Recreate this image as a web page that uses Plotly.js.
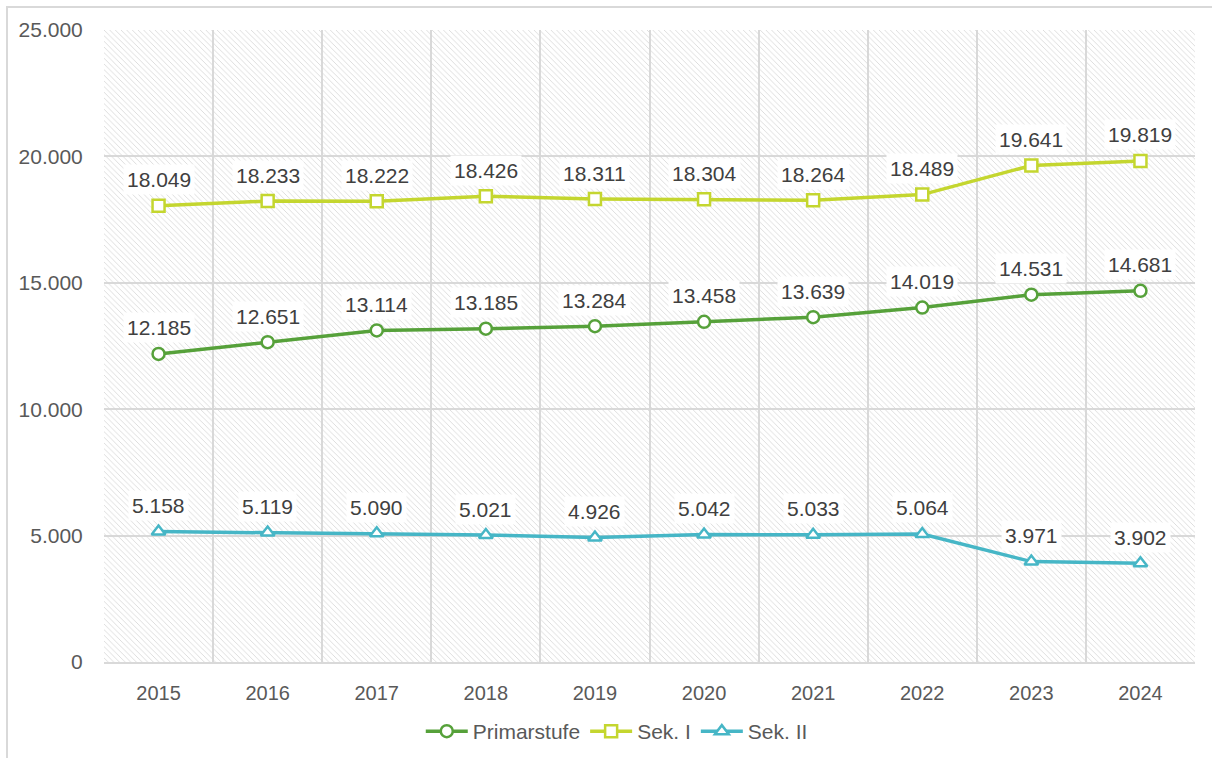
<!DOCTYPE html>
<html>
<head>
<meta charset="utf-8">
<script src="https://cdn.plot.ly/plotly-3.0.1.min.js"></script>
<style>
  body { margin: 0; background: #fff; }
  #wrap { position: relative; width: 1212px; height: 758px; overflow: hidden; }
  #frame { position: absolute; left: 6px; top: 6px; width: 1300px; height: 900px;
           border-left: 2px solid #d9d9d9; border-top: 2px solid #d9d9d9; }
  #chart { position: absolute; left: 0; top: 0; width: 1212px; height: 758px; }
</style>
</head>
<body>
<div id="wrap">
  <div id="frame"></div>
  <div id="chart"></div>
</div>
<script>
// Schülerzahlen nach Schulstufe
const jahre = [2015, 2016, 2017, 2018, 2019, 2020, 2021, 2022, 2023, 2024];
const primarstufe = [12185, 12651, 13114, 13185, 13284, 13458, 13639, 14019, 14531, 14681];
const sekI = [18049, 18233, 18222, 18426, 18311, 18304, 18264, 18489, 19641, 19819];
const sekII = [5158, 5119, 5090, 5021, 4926, 5042, 5033, 5064, 3971, 3902];

const yMax = 25000;

// Zahl mit Tausenderpunkt
function fmt(n) {
  return String(n).replace(/\B(?=(\d{3})+(?!\d))/g, '.');
}

const serien = [
  { name: 'Primarstufe', y: primarstufe, color: '#56a13a', symbol: 'circle' },
  { name: 'Sek. I', y: sekI, color: '#c4d62f', symbol: 'square' },
  { name: 'Sek. II', y: sekII, color: '#46b6c6', symbol: 'triangle-up' }
];

// schraffierter Hintergrund der Zeichenfläche
const x0 = jahre[0] - 0.5;
const x1 = jahre[jahre.length - 1] + 0.5;
const hintergrund = {
  type: 'scatter',
  x: [x0, x1, x1, x0, x0],
  y: [0, 0, yMax, yMax, 0],
  mode: 'none',
  fill: 'toself',
  fillcolor: 'rgba(0,0,0,0)',
  fillpattern: { shape: '\\', fgcolor: '#d6d6d6', size: 4, solidity: 0.2 },
  hoverinfo: 'skip',
  showlegend: false
};

const data = [hintergrund].concat(serien.map(s => ({
  type: 'scatter',
  mode: 'lines+markers',
  name: s.name,
  x: jahre,
  y: s.y,
  line: { color: s.color, width: 3.5 },
  marker: {
    symbol: s.symbol,
    size: 12,
    color: '#ffffff',
    line: { color: s.color, width: 2.5 }
  }
})));

// Datenbeschriftungen mit weißem Hintergrund
const annotations = [];
serien.forEach(s => {
  s.y.forEach((v, i) => {
    annotations.push({
      x: jahre[i],
      y: v,
      text: fmt(v),
      showarrow: false,
      yshift: 26,
      bgcolor: '#ffffff',
      borderpad: 3,
      font: { size: 21, color: '#404040' }
    });
  });
});

const layout = {
  width: 1212,
  height: 758,
  margin: { l: 104, r: 17, t: 30, b: 96, autoexpand: false },
  paper_bgcolor: 'rgba(0,0,0,0)',
  plot_bgcolor: '#ffffff',
  separators: ',.',
  font: { family: 'Liberation Sans, Arial, sans-serif', size: 20, color: '#595959' },
  xaxis: {
    range: [x0, x1],
    tickvals: jahre,
    ticktext: jahre.map(String),
    showgrid: false,
    ticks: 'outside',
    ticklen: 12,
    tickcolor: 'rgba(0,0,0,0)',
    zeroline: false,
    showline: true,
    linecolor: '#d9d9d9',
    linewidth: 2,
    automargin: false,
    minor: { tick0: x0, dtick: 1, showgrid: true, gridcolor: '#d9d9d9', gridwidth: 2 },
    tickfont: { size: 20, color: '#595959' }
  },
  yaxis: {
    range: [0, yMax],
    dtick: 5000,
    tickformat: ',d',
    showgrid: true,
    gridcolor: '#d9d9d9',
    gridwidth: 2,
    zeroline: false,
    ticks: 'outside',
    ticklen: 16,
    tickcolor: 'rgba(0,0,0,0)',
    automargin: false,
    tickfont: { size: 21, color: '#595959' }
  },
  showlegend: true,
  legend: {
    orientation: 'h',
    x: 0.47,
    xanchor: 'center',
    y: -0.11,
    yanchor: 'middle',
    itemwidth: 42,
    font: { size: 21, color: '#595959' },
    traceorder: 'normal'
  },
  annotations: annotations
};

Plotly.newPlot('chart', data, layout, { displayModeBar: false, staticPlot: true });
</script>
</body>
</html>
